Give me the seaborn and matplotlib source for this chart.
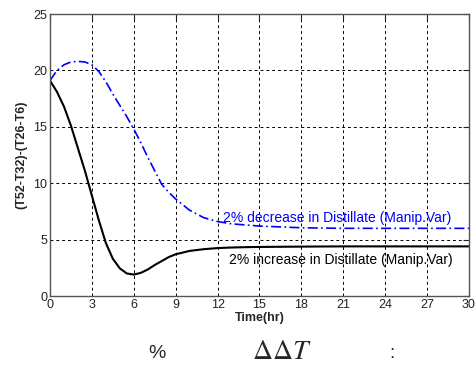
import matplotlib
matplotlib.use("Agg")
import matplotlib.pyplot as plt
import seaborn as sns
import pandas as pd

time_hr = [0, 0.5, 1, 1.5, 2, 2.5, 3, 3.5, 4, 4.5, 5, 5.5, 6, 6.5, 7, 7.5, 8, 8.5, 9, 10, 11, 12, 13, 14, 15, 18, 21, 24, 27, 30]
increase = [19.1, 18.1, 16.8, 15.1, 13.1, 11.1, 8.9, 6.7, 4.7, 3.3, 2.45, 2.0, 1.9, 2.05, 2.35, 2.75, 3.1, 3.45, 3.7, 4.0, 4.15, 4.25, 4.3, 4.33, 4.35, 4.38, 4.4, 4.4, 4.4, 4.4]
decrease = [19.1, 20.0, 20.5, 20.75, 20.8, 20.75, 20.5, 19.9, 19.0, 17.9, 16.9, 15.9, 14.8, 13.6, 12.3, 11.1, 9.9, 9.2, 8.6, 7.6, 6.95, 6.6, 6.4, 6.3, 6.2, 6.05, 6.0, 6.0, 6.0, 6.0]

label_dec = "2% decrease in Distillate (Manip.Var)"
label_inc = "2% increase in Distillate (Manip.Var)"
x_ticks = [0, 3, 6, 9, 12, 15, 18, 21, 24, 27, 30]
y_ticks = [0, 5, 10, 15, 20, 25]

sns.set_style("white")
plt.rcParams['font.family'] = ['Liberation Sans', 'DejaVu Sans']

df = pd.DataFrame({"t": time_hr, "inc": increase, "dec": decrease})

fig = plt.figure(figsize=(4.77, 3.69), dpi=100)
ax = fig.add_axes([0.1048, 0.1978, 0.8784, 0.7642])

sns.lineplot(data=df, x="t", y="inc", ax=ax, color="black", linewidth=1.5)
sns.lineplot(data=df, x="t", y="dec", ax=ax, color="#0000ff", linewidth=1.2,
             linestyle=(0, (6, 2, 1, 2)))

ax.set_xlim(0, 30)
ax.set_ylim(0, 25)
ax.set_xticks(x_ticks)
ax.set_yticks(y_ticks)
ax.tick_params(direction="in", length=4, labelsize=9, colors="#222222",
               top=True, right=True, pad=2)
ax.grid(True, color="black", linestyle=(0, (3, 3)), linewidth=0.7)
for s in ax.spines.values():
    s.set_color("#555555")
    s.set_linewidth(1.0)

ax.set_xlabel("Time(hr)", fontsize=9, fontweight="bold", labelpad=1)
ax.set_ylabel("(T52-T32)-(T26-T6)", fontsize=9, fontweight="bold", labelpad=4)

ax.text(12.4, 6.9, label_dec, color="#0000ff", fontsize=10, ha="left", va="center")
ax.text(12.8, 3.15, label_inc, color="black", fontsize=10, ha="left", va="center")

fig.text(157 / 477, 1 - 354 / 369, "%", fontsize=14, ha="center", va="center")
fig.text(282 / 477, 1 - 352 / 369, r"$\Delta\Delta T$", fontsize=20, ha="center", va="center",
         math_fontfamily="stix")
fig.text(392 / 477, 1 - 354 / 369, ":", fontsize=14, ha="center", va="center")

fig.savefig("out.png", dpi=100)
